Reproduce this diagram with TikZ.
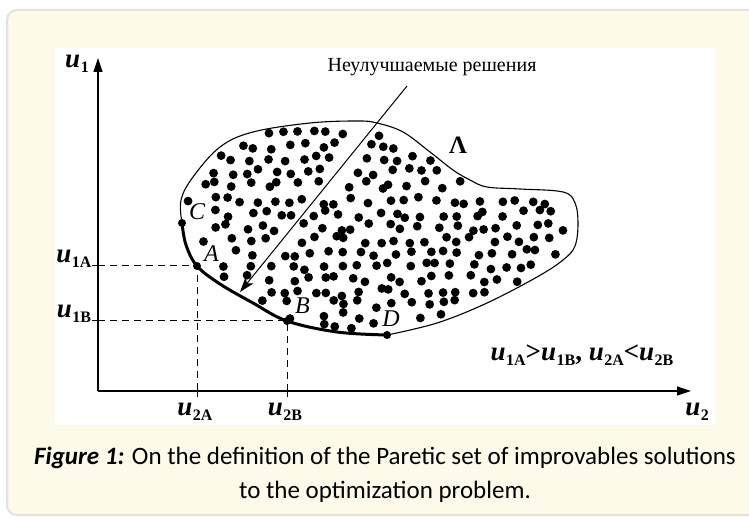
\documentclass[tikz,border=0pt]{standalone}
\usepackage{fontspec}
\setmainfont{Liberation Serif}
\newfontfamily\capfont{Carlito}
\usetikzlibrary{positioning,arrows.meta}
\definecolor{PanelCream}{RGB}{254,250,233}
\definecolor{PanelEdge}{RGB}{228,226,217}
\newcommand{\uvar}[1]{\textbf{\textit{u}}\kern0.5pt\raisebox{-0.4ex}{\fontsize{16}{16}\selectfont\bfseries #1}}
\tikzset{
  panel/.style={fill=PanelCream,draw=PanelEdge,line width=2pt,rounded corners=10pt},
  axisline/.style={-{Triangle[length=14pt,width=9pt]},line width=1.2pt},
  guide/.style={dash pattern=on 7pt off 5pt,line width=1pt},
  tickmark/.style={line width=1pt},
  blobline/.style={line width=1.1pt},
  pareto/.style={line width=3pt},
  pointer/.style={-{Stealth[length=15pt,width=10pt,inset=4pt]},line width=1pt},
  ptlabel/.style={font=\fontsize{24}{26}\selectfont\itshape,inner sep=0pt},
  axlabel/.style={font=\fontsize{27}{28}\selectfont,inner sep=0pt},
  headtext/.style={font=\fontsize{20}{22}\selectfont,inner sep=0pt},
  captext/.style={font=\capfont\fontsize{25}{27}\selectfont,inner sep=0pt}
}

\begin{document}
\begin{tikzpicture}[x=1pt,y=-1pt]
  \useasboundingbox (0,0) rectangle (749,518);
  \clip (0,0) rectangle (749,518);
  \fill[white] (0,0) rectangle (749,518);
  \draw[panel] (7,10) rectangle (790,515);
  \fill[white] (55,48) rectangle (715,425);

  % axes
  \coordinate (origin) at (98,391);
  \coordinate (ytip) at (98,58);
  \coordinate (xtip) at (691,391);
  \draw[axisline] (origin) -- (ytip);
  \draw[axisline] (origin) -- (xtip);

  % points on the Pareto boundary
  \coordinate (ptC) at (182,223);
  \coordinate (ptA) at (197,266);
  \coordinate (ptB) at (287,321);
  \coordinate (ptD) at (387,335);

  % the set of solutions
  \pgfmathsetseed{11}
  \foreach \yy/\xa/\xb in {133/265/392,146/238/408,159/219/427,172/212/444,185/202/462,
      201/194/560,214/200/565,227/196/566,240/203/564,253/203/558,266/213/544,
      279/226/522,292/250/498,304/266/472,316/294/440,325/322/402}{
    \pgfmathtruncatemacro\ncol{(\xb-\xa)/16}
    \foreach \i in {0,...,\ncol}{
      \pgfmathsetmacro\px{\xa+16*\i+6*rand}
      \pgfmathsetmacro\py{\yy+4*rand}
      \pgfmathsetmacro\dline{abs(0.206*(\px-407)+0.167*(\py-86))/0.2652}
      \pgfmathsetmacro\dlab{min(veclen((\px-197)/10,(\py-213)/10),veclen((\px-212)/10,(\py-255)/10),veclen((\px-303)/10,(\py-307)/10),veclen((\px-391)/10,(\py-319)/10))}
      \pgfmathtruncatemacro\keep{(\dline>4.6)*(\dlab>1.4)}
      \ifnum\keep=1 \fill (\px,\py) circle[radius=4.4pt]; \fi
    }
  }

  \draw[blobline] plot[smooth,tension=0.6] coordinates {(ptD) (437,323) (487,303) (537,277)
    (563,260) (575,246) (578,223) (575,203) (563,192) (520,189) (487,187) (470,180)
    (453,170) (430,152) (403,132) (377,123) (357,121) (310,123) (253,132) (220,147)
    (193,177) (181,200) (ptC)};
  \draw[pareto] plot[smooth,tension=0.6] coordinates {(ptC) (186,245) (ptA) (220,284)
    (253,303) (ptB) (337,332) (ptD)};
  \foreach \p in {ptC,ptA,ptB,ptD} \fill (\p) circle[radius=4pt];

  \node[ptlabel,above right=3pt and 7pt of ptC] (labC) {C};
  \node[ptlabel,above right=4pt and 7pt of ptA] (labA) {A};
  \node[ptlabel,above right=7pt and 8pt of ptB] (labB) {B};
  \node[ptlabel,above=8pt of ptD,xshift=4pt] (labD) {D};
  \node[axlabel,font=\fontsize{25}{26}\selectfont\bfseries] (lambda) at (458,145) {Λ};

  % guides to the axes
  \draw[guide] (ptA -| origin) -- (ptA) -- (ptA |- origin);
  \draw[guide] (ptB -| origin) -- (ptB) -- (ptB |- origin);
  \foreach \p in {ptA,ptB}{
    \draw[tickmark] (\p -| origin) -- ++(-6,0);
    \draw[tickmark] (\p |- origin) -- ++(0,6);
  }

  \node[axlabel] (lu1) at (77,64) {\uvar{1}};
  \node[axlabel] (lu2) at (697,412) {\uvar{2}};
  \node[axlabel] (lu1A) at (74,259) {\uvar{1A}};
  \node[axlabel] (lu1B) at (74,314) {\uvar{1B}};
  \node[axlabel] (lu2A) at (195,412) {\uvar{2A}};
  \node[axlabel] (lu2B) at (285,412) {\uvar{2B}};
  \node[axlabel] (cond) at (582,355) {\uvar{1A}\textbf{>}\uvar{1B}\textbf{,} \uvar{2A}\textbf{<}\uvar{2B}};

  \node[headtext] (headline) at (432,67) {Неулучшаемые решения};
  \coordinate (arrS) at (407,86);
  \coordinate (arrE) at (240,292);
  \draw[pointer] (arrS) -- (arrE);

  \node[captext] (cap1) at (385,458) {\textbf{\textit{Figure 1:}} On the definition of the Paretic set of improvables solutions};
  \node[captext] (cap2) at (385,492) {to the optimization problem.};
\end{tikzpicture}
\end{document}
